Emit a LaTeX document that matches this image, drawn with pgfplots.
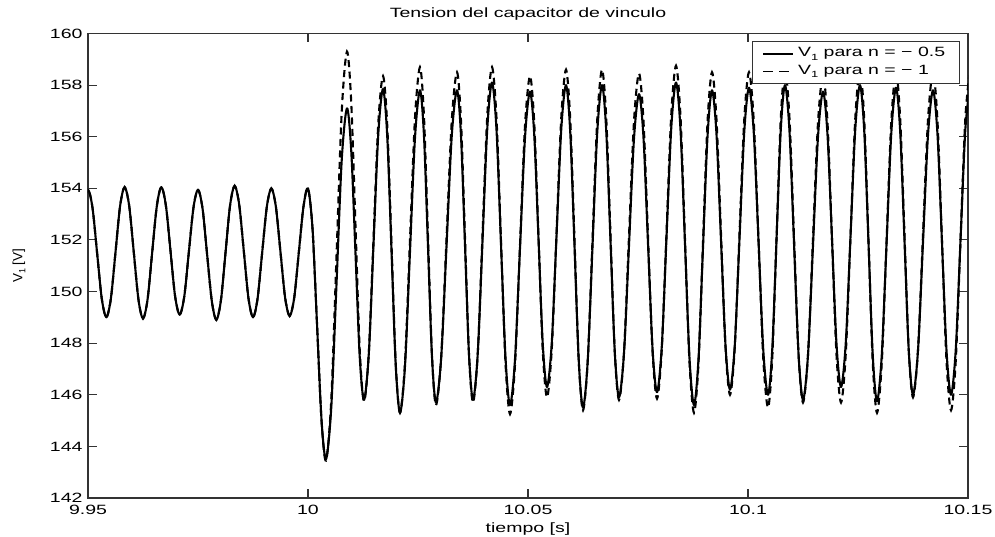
\documentclass[border=0pt]{standalone}
\usepackage{fontspec}
\setmainfont{Liberation Sans}[FakeStretch=1.45]
\newfontfamily\plainsans{Liberation Sans}
\usepackage{pgfplots}
\usepackage{pgfplotstable}
\pgfplotsset{compat=1.18}
\newcommand{\sub}[1]{\raisebox{-3.2bp}{\fontsize{9}{9}\selectfont #1}}
\newcommand{\fs}{\fontsize{13.5}{16}\selectfont}

\pgfplotstableread{
t a b
9.94896 153.22 153.22
9.95000 153.95 153.95
9.95104 153.225 153.225
9.95208 151.475 151.475
9.95313 149.725 149.725
9.95417 149.00 149.00
9.95521 149.74 149.74
9.95625 151.525 151.525
9.95729 153.31 153.31
9.95833 154.05 154.05
9.95938 153.30 153.30
9.96042 151.50 151.50
9.96146 149.70 149.70
9.96250 148.95 148.95
9.96354 149.70 149.70
9.96458 151.50 151.50
9.96563 153.30 153.30
9.96667 154.05 154.05
9.96771 153.325 153.325
9.96875 151.575 151.575
9.96979 149.825 149.825
9.97083 149.10 149.10
9.97188 149.81 149.81
9.97292 151.525 151.525
9.97396 153.24 153.24
9.97500 153.95 153.95
9.97604 153.21 153.21
9.97708 151.425 151.425
9.97813 149.64 149.64
9.97917 148.90 148.90
9.98021 149.66 149.66
9.98125 151.50 151.50
9.98229 153.34 153.34
9.98333 154.10 154.10
9.98438 153.35 153.35
9.98542 151.55 151.55
9.98646 149.75 149.75
9.98750 149.00 149.00
9.98854 149.73 149.73
9.98958 151.50 151.50
9.99063 153.27 153.27
9.99167 154.00 154.00
9.99271 153.275 153.275
9.99375 151.525 151.525
9.99479 149.775 149.775
9.99583 149.05 149.05
9.99688 149.775 149.775
9.99792 151.525 151.525
9.99896 153.275 153.275
10.00000 154.00 154.00
10.00102 152.46 152.455
10.00205 148.75 148.725
10.00307 145.04 144.995
10.00409 143.50 143.45
10.00528 145.49 145.77
10.00648 150.30 151.375
10.00767 155.11 156.98
10.00886 157.10 159.30
10.00983 155.445 157.32
10.01080 151.45 152.525
10.01176 147.455 147.73
10.01273 145.80 145.75
10.01381 147.565 147.595
10.01489 151.825 152.05
10.01597 156.085 156.505
10.01705 157.85 158.35
10.01801 156.01 156.44
10.01898 151.575 151.825
10.01994 147.14 147.21
10.02091 145.30 145.30
10.02205 147.13 147.26
10.02318 151.55 152.00
10.02432 155.97 156.74
10.02545 157.80 158.70
10.02636 156.03 156.78
10.02727 151.75 152.15
10.02818 147.47 147.52
10.02909 145.70 145.60
10.03028 147.47 147.49
10.03148 151.75 152.05
10.03267 156.03 156.61
10.03386 157.80 158.50
10.03477 156.04 156.625
10.03568 151.80 152.10
10.03659 147.56 147.575
10.03750 145.80 145.70
10.03858 147.60 147.60
10.03966 151.95 152.20
10.04074 156.30 156.80
10.04182 158.10 158.70
10.04284 156.27 156.73
10.04386 151.85 151.975
10.04489 147.43 147.22
10.04591 145.60 145.25
10.04705 147.38 147.17
10.04818 151.675 151.80
10.04932 155.97 156.43
10.05045 157.75 158.35
10.05142 156.07 156.53
10.05239 152.025 152.125
10.05335 147.98 147.72
10.05432 146.30 145.90
10.05540 148.01 147.76
10.05648 152.15 152.25
10.05756 156.29 156.74
10.05864 158.00 158.60
10.05960 156.17 156.67
10.06057 151.75 152.00
10.06153 147.33 147.33
10.06250 145.50 145.40
10.06358 147.33 147.33
10.06466 151.75 152.00
10.06574 156.17 156.67
10.06682 158.00 158.60
10.06778 156.23 156.73
10.06875 151.95 152.20
10.06972 147.67 147.67
10.07068 145.90 145.80
10.07182 147.62 147.65
10.07295 151.775 152.125
10.07409 155.93 156.60
10.07523 157.65 158.45
10.07625 155.96 156.605
10.07727 151.875 152.15
10.07830 147.79 147.695
10.07932 146.10 145.85
10.08040 147.86 147.74
10.08148 152.10 152.30
10.08256 156.34 156.86
10.08364 158.10 158.75
10.08466 156.27 156.78
10.08568 151.85 152.025
10.08670 147.43 147.27
10.08773 145.60 145.30
10.08875 147.39 147.23
10.08977 151.70 151.90
10.09080 156.01 156.57
10.09182 157.80 158.50
10.09284 156.10 156.67
10.09386 152.00 152.25
10.09489 147.90 147.83
10.09591 146.20 146.00
10.09699 147.91 147.83
10.09807 152.05 152.25
10.09915 156.19 156.67
10.10023 157.90 158.50
10.10131 156.16 156.60
10.10239 151.95 152.00
10.10347 147.74 147.40
10.10455 146.00 145.50
10.10551 147.76 147.42
10.10648 152.00 152.05
10.10744 156.24 156.68
10.10841 158.00 158.60
10.10943 156.21 156.71
10.11045 151.90 152.15
10.11148 147.59 147.59
10.11250 145.80 145.70
10.11364 147.55 147.56
10.11477 151.775 152.05
10.11591 156.00 156.54
10.11705 157.75 158.40
10.11807 156.07 156.54
10.11909 152.025 152.05
10.12011 147.98 147.56
10.12114 146.30 145.70
10.12222 148.01 147.59
10.12330 152.15 152.15
10.12438 156.29 156.71
10.12545 158.00 158.60
10.12642 156.21 156.65
10.12739 151.875 151.95
10.12835 147.54 147.25
10.12932 145.75 145.30
10.13040 147.53 147.23
10.13148 151.825 151.90
10.13256 156.12 156.57
10.13364 157.90 158.50
10.13460 156.16 156.655
10.13557 151.95 152.20
10.13653 147.74 147.745
10.13750 146.00 145.90
10.13864 147.73 147.745
10.13977 151.90 152.20
10.14091 156.07 156.655
10.14205 157.80 158.50
10.14307 156.07 156.58
10.14409 151.90 151.95
10.14511 147.73 147.32
10.14614 146.00 145.40
10.14722 147.76 147.33
10.14830 152.00 152.00
10.14938 156.24 156.67
10.15045 158.00 158.60
}\data

\begin{document}
\begin{tikzpicture}
\path[use as bounding box] (-88bp,-39bp) rectangle (907bp,498bp);
\begin{axis}[
  at={(0,0)}, anchor=south west, scale only axis,
  width=880bp, height=464.5bp,
  xmin=9.95, xmax=10.15, ymin=142, ymax=160,
  xtick={9.95,10,10.05,10.1,10.15},
  xticklabels={9.95,10,10.05,10.1,10.15},
  ytick={142,144,146,148,150,152,154,156,158,160},
  yticklabels={142,144,146,148,150,152,154,156,158,160},
  tick align=inside,
  major tick length=8.8bp,
  axis line style={black!80, line width=1.1bp},
  every tick/.style={black!80, line width=1.1bp},
  tick label style={font=\fs},
  xticklabel style={yshift=-3.5bp},
  yticklabel style={xshift=-2bp},
  title={Tension del capacitor de vinculo},
  title style={font=\fs, at={(axis description cs:0.5,1)}, anchor=base, yshift=10bp},
  xlabel={tiempo [s]},
  xlabel style={font=\fs, at={(axis description cs:0.5,0)}, anchor=base, yshift=-34bp},
  ylabel={\plainsans V\sub{1} [V]},
  ylabel style={font=\fs, at={(axis description cs:-0.0784,0.5)}, anchor=center},
  legend style={at={(axis description cs:0.9906,0.9843)}, anchor=north east,
    draw=black!80, line width=1.1bp, fill=white, font=\fs,
    inner xsep=10bp, inner ysep=3.9bp, row sep=0bp,
    nodes={inner xsep=4bp, inner ysep=1.7bp, text height=10bp, text depth=4bp},
    cells={anchor=west}},
  legend image code/.code={\draw[#1] (0bp,0bp) -- (30bp,0bp);},
]
\addplot[black, line width=2.1bp, smooth, line join=round, forget plot] table[x=t,y=a]{\data};
\addplot[black, line width=2.1bp, dash pattern=on 7bp off 4.5bp, smooth, forget plot] table[x=t,y=b]{\data};
\addlegendimage{black, line width=1.5bp}
\addlegendentry{V\sub{1} para n = − 0.5}
\addlegendimage{black, line width=1.5bp, dash pattern=on 10bp off 6bp}
\addlegendentry{V\sub{1} para n = − 1}
\end{axis}
\end{tikzpicture}
\end{document}
